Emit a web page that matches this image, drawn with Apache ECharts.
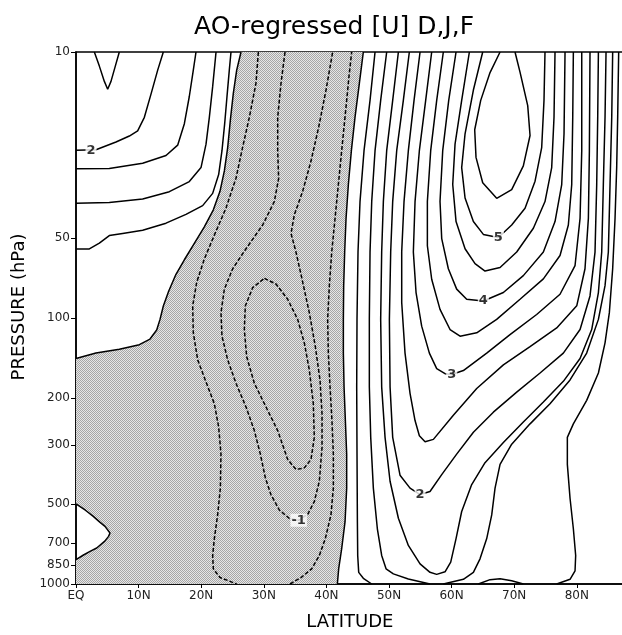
<!DOCTYPE html>
<html><head><meta charset="utf-8">
<script src="https://cdn.jsdelivr.net/npm/echarts@6/dist/echarts.min.js"></script>
<style>html,body{margin:0;padding:0;background:#fff}#c{width:622px;height:635px}</style>
</head><body><div id="c"></div>
<script>
// ---------- tick labels ----------
const xTicks = [0, 10, 20, 30, 40, 50, 60, 70, 80];
const yTicks = [10, 50, 100, 200, 300, 500, 700, 850, 1000];

// ---------- contour polylines: [latitude, pressure hPa] ----------
// positive contours, tropical stratosphere
const pos25Tongue = [[2.93,10],[3.73,11.3],[4.53,12.9],[5.06,13.8],[5.59,12.9],[6.28,11.3],[6.92,10]];
const pos20Left = [[0,23.4],[3.19,23.3],[6.39,21.8],[8.52,20.7],[9.85,19.8],[10.92,17.6],[11.98,14.4],[13.05,11.7],[13.95,10]];
const pos15Left = [[0,27.5],[5.32,27.4],[10.65,26.2],[14.38,24.5],[16.24,22.4],[17.31,18.6],[18.1,14.7],[18.74,11.7],[19.17,10]];
const pos10Left = [[0,37.0],[5.32,36.8],[10.65,35.7],[14.91,33.5],[18.1,30.7],[19.97,27.2],[20.77,22.2],[21.3,17.6],[21.83,13.5],[22.37,10]];
const pos05Left = [[0,55],[2.13,55],[3.73,52.3],[5.32,49],[7.45,48.1],[10.65,46.8],[14.38,44],[17.57,40.8],[20.23,37.8],[21.83,34],[22.79,28.9],[23.32,23.5],[23.75,18.6],[24.12,14.7],[24.49,11.7],[24.76,10]];
// zero contours
const zeroLeft = [[0,142],[3.19,135.5],[6.92,131],[10.12,126],[11.82,120],[12.89,111],[13.42,101.2],[13.95,90.1],[14.8,79.3],[15.97,68.5],[17.31,60.4],[18.9,52.4],[20.5,45.4],[21.94,39.2],[23.0,33.4],[23.7,28.0],[24.23,22.9],[24.65,18.1],[25.13,14.3],[25.67,11.7],[26.36,10]];
const zeroLoop = [[0,500],[1.5,528],[2.76,557],[3.8,585],[4.63,607],[5.43,643],[5.2,662],[4.6,690],[3.31,732],[2.24,754],[1.2,778],[0,810]];
const zeroRight = [[45.9,10],[45.27,13.1],[44.57,17.6],[43.99,23.5],[43.51,31.5],[43.14,42.2],[42.92,56.5],[42.76,75.6],[42.71,101.2],[42.71,135.5],[42.82,181.5],[43.03,243],[43.24,325],[43.24,436],[42.98,583],[42.44,737],[41.96,878],[41.75,1000]];
// negative contours
const neg05Left = [[29.13,10],[28.75,13.1],[27.69,17.6],[26.62,22.8],[25.56,29.8],[23.96,38.6],[22.1,48.8],[20.5,60],[19.28,73.4],[18.64,90.1],[18.74,113.7],[19.44,143.7],[20.77,174],[22.1,210],[22.79,257],[23.16,325],[23.06,436],[22.63,549],[22.1,675],[21.83,781],[21.94,877],[23.0,945],[25.67,1000]];
const neg05Right = [[34.19,1000],[35.94,946],[37.65,877],[38.87,781],[39.83,675],[40.73,549],[41.11,436],[41.11,325],[40.89,243],[40.58,181.5],[40.31,135.5],[40.2,101.2],[40.47,75.6],[40.85,56.5],[41.38,42.2],[41.91,31.5],[42.44,23.5],[43.24,15.2],[43.6,12.4],[44.04,10]];
const neg10 = [[33.39,10],[32.75,13.1],[32.22,17.6],[32.22,23.5],[32.37,29.9],[31.68,36.5],[29.82,44.7],[27.16,54.9],[25.03,65.3],[23.7,77.9],[23.16,95.5],[23.32,117.1],[24.23,143.7],[25.56,176],[27.16,216],[28.49,265],[29.45,325],[30.25,399],[31.15,462],[32.48,527],[34.08,567],[35.57,576],[37.01,547],[38.07,490],[38.87,411],[39.3,307],[39.3,229],[38.98,171],[38.23,128],[37.27,95.5],[36.1,71.3],[35.14,56.5],[34.35,48.1],[34.88,40.9],[36.21,33.4],[37.54,25.7],[38.76,19.2],[39.94,13.9],[41.0,10]];
const neg15 = [[30.09,71],[31.95,74.5],[33.81,85],[35.41,101.2],[36.48,124.2],[37.27,156.8],[37.91,210],[38.07,281],[37.54,340],[36.48,366],[35.14,371],[33.81,340],[32.22,265],[30.35,216],[28.49,176],[27.26,139.6],[26.89,110.5],[27.05,90.1],[28.22,76.9],[30.09,71]];
// positive contours, high latitudes
const pos05Right = [[47.77,10],[46.97,15.2],[46.01,23.5],[45.37,36.5],[45.05,56.5],[44.89,101.2],[44.84,181.5],[44.89,325],[44.95,583],[45.0,781],[45.16,904],[45.9,952],[47.24,1000]];
const pos05Hump = [[64.28,1000],[66.14,963],[67.74,955],[69.6,973],[71.46,1000]];
const pos10a = [[49.63,10],[48.67,15.2],[47.77,23.5],[47.24,36.5],[46.97,56.5],[46.86,101.2],[46.86,181.5],[47.08,281],[47.5,436],[48.14,620],[48.83,781],[49.53,877],[50.7,916],[53.09,958],[56.55,1000]];
const pos10b = [[58.68,1000],[61.88,960],[63.48,904],[64.54,804],[65.61,675],[66.41,550],[66.94,436],[67.74,355],[69.6,298],[72.53,250],[75.72,210],[78.92,171],[81.58,135.5],[83.45,101.2],[84.51,75.6],[85.04,56.5],[85.31,31.5],[85.58,17.6],[85.73,10]];
const pos10c = [[76.79,1000],[78.92,960],[79.72,892],[79.82,781],[79.45,620],[78.92,476],[78.49,355],[78.49,281],[79.45,250],[81.58,204],[83.45,161],[84.51,124],[85.2,95.5],[85.73,65.3],[86.11,42.2],[86.37,27.2],[86.53,17.6],[86.69,10]];
const pos15 = [[51.5,10],[50.59,15.2],[49.63,23.5],[49.1,36.5],[48.83,56.5],[48.67,101.2],[48.83,181.5],[49.37,281],[50.17,411],[51.5,566],[53.09,716],[54.96,840],[56.55,904],[57.62,920],[58.95,900],[59.86,828],[60.71,675],[61.61,534],[63.21,423],[65.34,350],[68.27,294],[71.46,246],[74.66,207],[77.85,173],[80.52,142],[82.38,110.5],[83.45,80.2],[83.98,56.5],[84.24,31.5],[84.51,17.6],[84.67,10]];
const pos20 = [[53.25,10],[52.29,15.2],[51.23,23.5],[50.59,36.5],[50.27,56.5],[50.06,101.2],[50.17,181.5],[50.59,281],[51.76,390],[53.36,436],[54.96,461],[56.55,449],[58.42,388],[60.81,325],[63.48,269],[66.67,226],[70.4,190],[74.13,161],[77.85,135.5],[80.52,110.5],[82.11,82.6],[82.91,56.5],[83.18,31.5],[83.34,17.6],[83.45,10]];
const pos25 = [[54.96,10],[54.0,15.2],[53.09,23.5],[52.4,36.5],[52.03,56.5],[52.03,87.5],[52.56,135.5],[53.36,192],[54.16,243],[54.85,277],[55.76,292],[57.09,286],[60.28,232],[64.01,184],[68.27,150],[72.53,128],[76.79,109],[79.99,90],[81.31,65.3],[81.85,42.2],[82.01,23.5],[82.11,10]];
const pos30 = [[56.82,10],[55.86,15.2],[54.85,23.5],[54.16,36.5],[53.89,56.5],[54.32,80.2],[55.22,107.3],[56.45,135.5],[57.62,155],[58.95,162],[60.02,163],[61.88,157.6],[65.61,135.5],[69.33,115.5],[73.59,97],[77.32,81.4],[79.72,63.5],[80.52,42.2],[80.79,23.5],[80.79,10]];
const pos35 = [[58.68,10],[57.62,15.2],[56.66,23.5],[56.13,36.5],[56.13,53.5],[56.82,71.5],[58.15,92.8],[59.75,110.5],[61.35,117.1],[64.01,113.7],[67.2,101.2],[70.93,85],[74.66,71.3],[77.32,58.2],[78.65,44.7],[79.19,31.5],[79.35,17.6],[79.45,10]];
const pos40 = [[60.71,10],[59.54,15.2],[58.58,23.5],[58.15,36.5],[58.42,50.3],[59.48,65.3],[60.81,77.9],[62.41,85],[65.07,86.3],[68.27,80.2],[71.46,69.3],[74.66,56.5],[76.52,43.4],[77.59,31.5],[77.96,20.3],[78.12,10]];
const pos45 = [[62.84,10],[61.61,15.2],[60.55,22.2],[60.18,31.5],[60.71,43.4],[62.15,54.9],[63.74,62.5],[65.34,66.6],[67.74,64.6],[70.4,56.5],[73.06,46],[74.92,36.5],[75.99,27.2],[76.36,17.6],[76.52,10]];
const pos50 = [[64.97,10],[63.48,13.9],[62.15,20.3],[61.61,27.2],[62.15,35.4],[63.48,43.4],[65.07,48.5],[67.47,49.8],[69.6,44.7],[71.73,38.7],[73.33,30.6],[74.39,22.9],[74.76,15.2],[74.92,10]];
const pos55 = [[67.74,10],[66.14,11.95],[64.65,15.2],[63.69,19.6],[63.9,24.9],[64.97,31],[67.2,35.5],[69.6,32.9],[71.46,26.8],[72.53,20.6],[72.16,15.9],[70.93,11.9],[70.13,10]];

// ---------- contour labels ----------
const labelTexts = ['2', '-1', '2', '3', '4', '5'];
const labelPoints = [[2.4,23.4],[35.57,576],[54.96,461],[60.02,163],[65.07,86.3],[67.47,49.8]];

const solidLines = [pos25Tongue,pos20Left,pos15Left,pos10Left,pos05Left,zeroLeft,zeroLoop,zeroRight,
  pos05Right,pos05Hump,pos10a,pos10b,pos10c,pos15,pos20,pos25,pos30,pos35,pos40,pos45,pos50,pos55];
const dashedLines = [neg05Left,neg05Right,neg10,neg15];

// shaded (negative) region built from the zero contours
const shadePoly = [].concat(zeroRight, [[0,1000]], zeroLoop.slice().reverse(), zeroLeft);

const FONT = 'DejaVu Sans';
const pat = document.createElement('canvas');
pat.width = 2; pat.height = 2;
(function(){const g = pat.getContext('2d'); g.fillStyle='#e6e6e6'; g.fillRect(0,0,2,2); g.fillStyle='#a6a6a6'; g.fillRect(0,0,1,1); g.fillRect(1,1,1,1);})();

const series = [];
series.push({
  type: 'custom', silent: true, z: 1, clip: true,
  data: [[0, 10]],
  renderItem: function (params, api) {
    return { type: 'polygon', shape: { points: shadePoly.map(function (p) { return api.coord(p); }) },
      style: { fill: { image: pat, repeat: 'repeat' }, stroke: null } };
  }
});
solidLines.forEach(function (d) {
  series.push({ type: 'line', data: d, symbol: 'none', silent: true, z: 3, clip: true,
    lineStyle: { color: '#000', width: 1.5, type: 'solid' } });
});
dashedLines.forEach(function (d) {
  series.push({ type: 'line', data: d, symbol: 'none', silent: true, z: 3, clip: true,
    lineStyle: { color: '#000', width: 1.5, type: [4, 2] } });
});
series.push({
  type: 'scatter', z: 5, silent: true, symbolSize: 1, itemStyle: { color: 'rgba(0,0,0,0)' },
  data: labelPoints.map(function (p, i) { return { value: p, name: labelTexts[i] }; }),
  label: { show: true, position: 'inside', formatter: '{b}', color: '#000', fontSize: 13, fontWeight: 'bold',
    fontFamily: FONT, backgroundColor: '#fff', padding: [0, 1] }
});

const chart = echarts.init(document.getElementById('c'), null, { renderer: 'canvas' });
chart.setOption({
  animation: false,
  backgroundColor: '#fff',
  title: { text: 'AO-regressed [U] D,J,F', left: 194, top: 15, padding: 0,
    textStyle: { fontSize: 25, fontWeight: 'normal', color: '#000', fontFamily: FONT } },
  grid: { left: 76, top: 52, width: 547.75, height: 532, show: true, borderColor: '#000', borderWidth: 1.5,
    backgroundColor: 'rgba(0,0,0,0)', outerBoundsMode: 'none', containLabel: false },
  xAxis: {
    type: 'value', min: 0, max: 87.5,
    axisLine: { show: true, onZero: false, lineStyle: { color: '#000', width: 1.5 } },
    axisTick: { show: true, customValues: xTicks, length: 4, lineStyle: { color: '#000', width: 1 } },
    axisLabel: { customValues: xTicks, formatter: function (v) { return v === 0 ? 'EQ' : v + 'N'; },
      color: '#222', fontSize: 12, margin: 6, fontFamily: FONT },
    splitLine: { show: false },
    name: 'LATITUDE', nameLocation: 'middle', nameGap: 29,
    nameTextStyle: { fontSize: 18, color: '#000', fontFamily: FONT }
  },
  yAxis: {
    type: 'log', logBase: 10, min: 10, max: 1000, inverse: true,
    axisLine: { show: true, lineStyle: { color: '#000', width: 1.5 } },
    axisTick: { show: true, customValues: yTicks, length: 5, lineStyle: { color: '#000', width: 1 } },
    axisLabel: { customValues: yTicks, formatter: function (v) { return String(Math.round(v)); },
      color: '#222', fontSize: 12, margin: 6, fontFamily: FONT },
    splitLine: { show: false }, minorTick: { show: false }, minorSplitLine: { show: false },
    name: 'PRESSURE (hPa)', nameLocation: 'middle', nameGap: 46, nameRotate: 90,
    nameTextStyle: { fontSize: 18, color: '#000', fontFamily: FONT, padding: [0, 0, 0, 22] }
  },
  series: series
});
</script>
</body></html>
